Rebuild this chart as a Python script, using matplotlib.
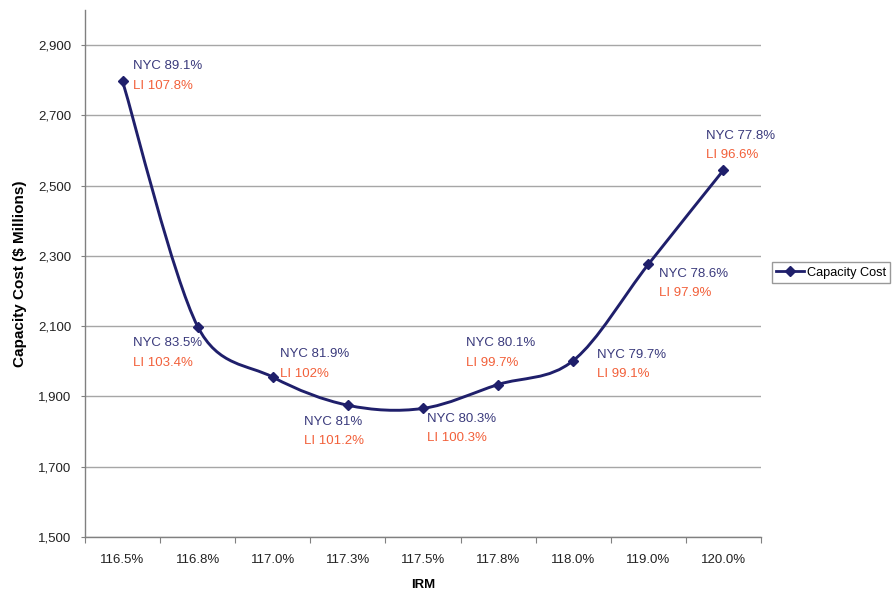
import matplotlib
matplotlib.use("Agg")
import matplotlib.pyplot as plt
import numpy as np
from matplotlib.path import Path
from matplotlib.patches import PathPatch
from matplotlib.lines import Line2D
from matplotlib.ticker import FuncFormatter

plt.rcParams['font.family'] = ['Liberation Sans', 'DejaVu Sans']

irm = ["116.5%", "116.8%", "117.0%", "117.3%", "117.5%",
       "117.8%", "118.0%", "119.0%", "120.0%"]
cost = [2797, 2099, 1955, 1875, 1866, 1934, 2002, 2276, 2544]
nyc = ["89.1%", "83.5%", "81.9%", "81%", "80.3%", "80.1%", "79.7%", "78.6%", "77.8%"]
li = ["107.8%", "103.4%", "102%", "101.2%", "100.3%", "99.7%", "99.1%", "97.9%", "96.6%"]

# label offsets in pixels: (dx, dy of NYC line, dy of LI line)
offsets = [(10, 15, -5), (-65, -16, -36), (7, 23, 3), (-44, -17, -36),
           (4, -11, -30), (-32, 42, 22), (24, 6, -13), (11, -10, -29),
           (-17, 34, 15)]

LINE = "#1f1f6b"
NYC_COL = "#3a3a7c"
LI_COL = "#f2603a"


def smooth_path(ax, x, y):
    # spreadsheet-style smoothed line: bezier segments whose control arms
    # are (next - prev) / 6, capped at half the segment length (screen space)
    to_px = ax.transData
    pts = to_px.transform(np.column_stack([x, y]).astype(float))
    n = len(pts)
    verts = [pts[0]]
    codes = [Path.MOVETO]
    for i in range(n - 1):
        p0 = pts[max(i - 1, 0)]
        p1 = pts[i]
        p2 = pts[i + 1]
        p3 = pts[min(i + 2, n - 1)]
        d12 = np.hypot(*(p2 - p1))
        a1 = (p2 - p0) / 6.0
        a2 = (p3 - p1) / 6.0
        for a in (a1, a2):
            la = np.hypot(*a)
            if la > d12 / 2:
                a *= (d12 / 2) / la
        verts += [p1 + a1, p2 - a2, p2]
        codes += [Path.CURVE4] * 3
    verts = to_px.inverted().transform(np.array(verts))
    return Path(verts, codes)


fig = plt.figure(figsize=(8.94, 5.92), dpi=100)
ax = fig.add_axes([0.0951, 0.0929, 0.7561, 0.8902])

xs = np.arange(len(irm))
ax.set_xlim(-0.5, len(irm) - 0.5)
ax.set_ylim(1500, 3000)

ax.add_patch(PathPatch(smooth_path(ax, xs, cost), facecolor="none",
                       edgecolor=LINE, lw=2.1, zorder=3))
ax.plot(xs, cost, linestyle="none", marker="D", markersize=5.5,
        color=LINE, zorder=4)

for i in range(len(irm)):
    dx, dy1, dy2 = offsets[i]
    ax.annotate("NYC " + nyc[i], (xs[i], cost[i]), xytext=(dx, dy1),
                textcoords="offset pixels", ha="left", va="center",
                fontsize=9.5, color=NYC_COL, zorder=5)
    ax.annotate("LI " + li[i], (xs[i], cost[i]), xytext=(dx, dy2),
                textcoords="offset pixels", ha="left", va="center",
                fontsize=9.5, color=LI_COL, zorder=5)

ax.set_yticks(np.arange(1500, 3000, 200))
ax.yaxis.set_major_formatter(FuncFormatter(lambda v, p: f"{int(v):,}"))

ax.set_xticks(np.arange(-0.5, len(irm), 1.0))
ax.set_xticklabels([])
ax.set_xticks(xs, minor=True)
ax.set_xticklabels(irm, minor=True)
ax.tick_params(axis="x", which="major", length=4, color="#808080", direction="out")
ax.tick_params(axis="x", which="minor", length=0, pad=12, labelsize=9.5,
               labelcolor="#222222")
ax.tick_params(axis="y", length=3, color="#808080", pad=7, labelsize=9.5,
               labelcolor="#222222")

ax.grid(axis="y", color="#a6a6a6", lw=1.0)
ax.set_axisbelow(True)
for s in ["top", "right"]:
    ax.spines[s].set_visible(False)
for s in ["left", "bottom"]:
    ax.spines[s].set_color("#808080")
    ax.spines[s].set_linewidth(1.0)

ax.set_xlabel("IRM", fontsize=9.5, fontweight="bold", va="center")
ax.xaxis.set_label_coords(0.5, -0.091)
ax.set_ylabel("Capacity Cost ($ Millions)", fontsize=11, fontweight="bold",
              va="center")
ax.yaxis.set_label_coords(-0.096, 0.5)

handle = Line2D([], [], color=LINE, lw=2.0, marker="D", markersize=5)
leg = fig.legend([handle], ["Capacity Cost"], loc="center left",
                 bbox_to_anchor=(0.863, 0.539), fontsize=9.2, frameon=True,
                 fancybox=False, shadow=False, handlelength=2.2,
                 handletextpad=0.2, borderpad=0.35, borderaxespad=0)
leg.get_frame().set_edgecolor("#808080")
leg.get_frame().set_linewidth(1.0)

fig.savefig("out.png", dpi=100)
